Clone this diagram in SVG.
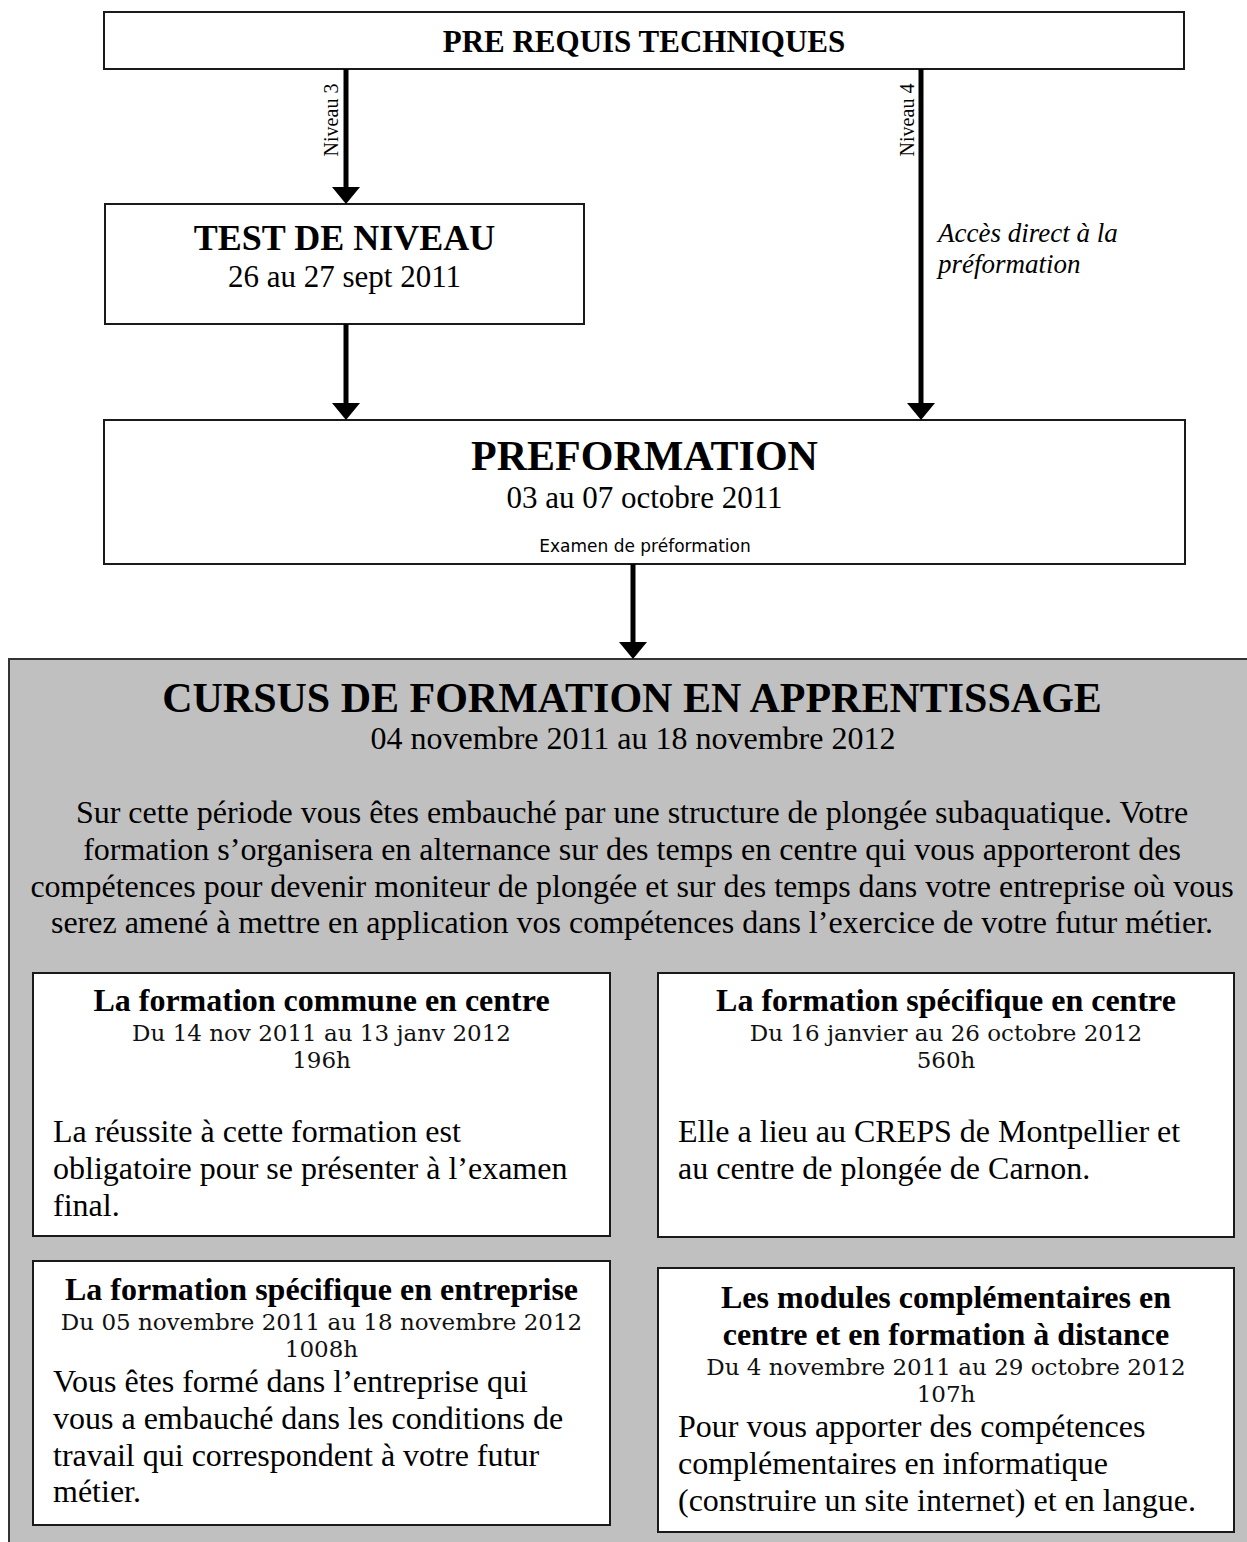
<svg xmlns="http://www.w3.org/2000/svg" width="1247" height="1542" viewBox="0 0 1247 1542">
  <style>
    .box { fill: #ffffff; stroke: #1a1a1a; stroke-width: 2; }
    .gray { fill: #c0c0c0; stroke: #333333; stroke-width: 2; }
    .conn { stroke: #000000; stroke-width: 5; fill: none; }
    .t { font-family: "Liberation Serif", "Times New Roman", serif; fill: #000000; }
    .b { font-weight: bold; }
    .c { text-anchor: middle; }
    .i { font-style: italic; }
    .bk { font-family: "DejaVu Serif", serif; fill: #111111; font-size: 23px; text-anchor: middle; }
    .sans { font-family: "DejaVu Sans", "Liberation Sans", sans-serif; fill: #000000; }
    .title { font-size: 32px; font-weight: bold; text-anchor: middle; }
    .body { font-size: 32px; }
  </style>
  <defs>
    <marker id="arrow" markerUnits="userSpaceOnUse" markerWidth="17" markerHeight="28" viewBox="0 0 17 28" refX="0" refY="14" orient="auto">
      <path d="M0,0 L17,14 L0,28 Z" fill="#000000"/>
    </marker>
  </defs>

  <rect x="0" y="0" width="1247" height="1542" fill="#ffffff"/>

  <g id="cursus">
    <rect class="gray" x="9" y="659" width="1260" height="900"/>
    <text class="t b c" x="632" y="712" font-size="42">CURSUS DE FORMATION EN APPRENTISSAGE</text>
    <text class="t c" x="633" y="749" font-size="32">04 novembre 2011 au 18 novembre 2012</text>
    <text class="t c" x="632" y="823" font-size="32">Sur cette période vous êtes embauché par une structure de plongée subaquatique. Votre</text>
    <text class="t c" x="632" y="860" font-size="32">formation s’organisera en alternance sur des temps en centre qui vous apporteront des</text>
    <text class="t c" x="632" y="897" font-size="32">compétences pour devenir moniteur de plongée et sur des temps dans votre entreprise où vous</text>
    <text class="t c" x="632" y="933" font-size="32">serez amené à mettre en application vos compétences dans l’exercice de votre futur métier.</text>
  </g>

  <g id="prerequis">
    <rect class="box" x="104" y="12" width="1080" height="57"/>
    <text class="t b c" x="644" y="52" font-size="31">PRE REQUIS TECHNIQUES</text>
  </g>

  <g id="test-niveau">
    <rect class="box" x="105" y="204" width="479" height="120"/>
    <text class="t b c" x="344.5" y="250" font-size="36">TEST DE NIVEAU</text>
    <text class="t c" x="344.5" y="287" font-size="31">26 au 27 sept 2011</text>
  </g>

  <g id="preformation">
    <rect class="box" x="104" y="420" width="1081" height="144"/>
    <text class="t b c" x="644.5" y="470" font-size="42">PREFORMATION</text>
    <text class="t c" x="644.5" y="508" font-size="31">03 au 07 octobre 2011</text>
    <text class="sans c" x="645" y="552" font-size="17">Examen de préformation</text>
  </g>

  <g id="connectors">
    <line class="conn" x1="346" y1="69" x2="346" y2="187" marker-end="url(#arrow)"/>
    <line class="conn" x1="346" y1="324" x2="346" y2="403" marker-end="url(#arrow)"/>
    <line class="conn" x1="921" y1="69" x2="921" y2="403" marker-end="url(#arrow)"/>
    <line class="conn" x1="633" y1="564" x2="633" y2="642" marker-end="url(#arrow)"/>
    <text class="t c" font-size="20" transform="translate(338,120) rotate(-90)">Niveau 3</text>
    <text class="t c" font-size="20" transform="translate(914,120) rotate(-90)">Niveau 4</text>
    <text class="t i" x="938" y="242" font-size="27">Accès direct à la</text>
    <text class="t i" x="938" y="273" font-size="27">préformation</text>
  </g>

  <g id="formation-commune">
    <rect class="box" x="33" y="973" width="577" height="263"/>
    <text class="t title" x="321.5" y="1011">La formation commune en centre</text>
    <text class="bk" x="321.5" y="1041">Du 14 nov 2011 au 13 janv 2012</text>
    <text class="bk" x="321.5" y="1068">196h</text>
    <text class="t body" x="53" y="1142">La réussite à cette formation est</text>
    <text class="t body" x="53" y="1179">obligatoire pour se présenter à l’examen</text>
    <text class="t body" x="53" y="1216">final.</text>
  </g>

  <g id="formation-specifique-centre">
    <rect class="box" x="658" y="973" width="576" height="264"/>
    <text class="t title" x="946" y="1011">La formation spécifique en centre</text>
    <text class="bk" x="946" y="1041">Du 16 janvier au 26 octobre 2012</text>
    <text class="bk" x="946" y="1068">560h</text>
    <text class="t body" x="678" y="1142">Elle a lieu au CREPS de Montpellier et</text>
    <text class="t body" x="678" y="1179">au centre de plongée de Carnon.</text>
  </g>

  <g id="formation-specifique-entreprise">
    <rect class="box" x="33" y="1261" width="577" height="264"/>
    <text class="t title" x="321.5" y="1300">La formation spécifique en entreprise</text>
    <text class="bk" x="321.5" y="1330">Du 05 novembre 2011 au 18 novembre 2012</text>
    <text class="bk" x="321.5" y="1357">1008h</text>
    <text class="t body" x="53" y="1392">Vous êtes formé dans l’entreprise qui</text>
    <text class="t body" x="53" y="1429">vous a embauché dans les conditions de</text>
    <text class="t body" x="53" y="1466">travail qui correspondent à votre futur</text>
    <text class="t body" x="53" y="1502">métier.</text>
  </g>

  <g id="modules-complementaires">
    <rect class="box" x="658" y="1268" width="576" height="264"/>
    <text class="t title" x="946" y="1308">Les modules complémentaires en</text>
    <text class="t title" x="946" y="1345">centre et en formation à distance</text>
    <text class="bk" x="946" y="1375">Du 4 novembre 2011 au 29 octobre 2012</text>
    <text class="bk" x="946" y="1402">107h</text>
    <text class="t body" x="678" y="1437">Pour vous apporter des compétences</text>
    <text class="t body" x="678" y="1474">complémentaires en informatique</text>
    <text class="t body" x="678" y="1511">(construire un site internet) et en langue.</text>
  </g>
</svg>
